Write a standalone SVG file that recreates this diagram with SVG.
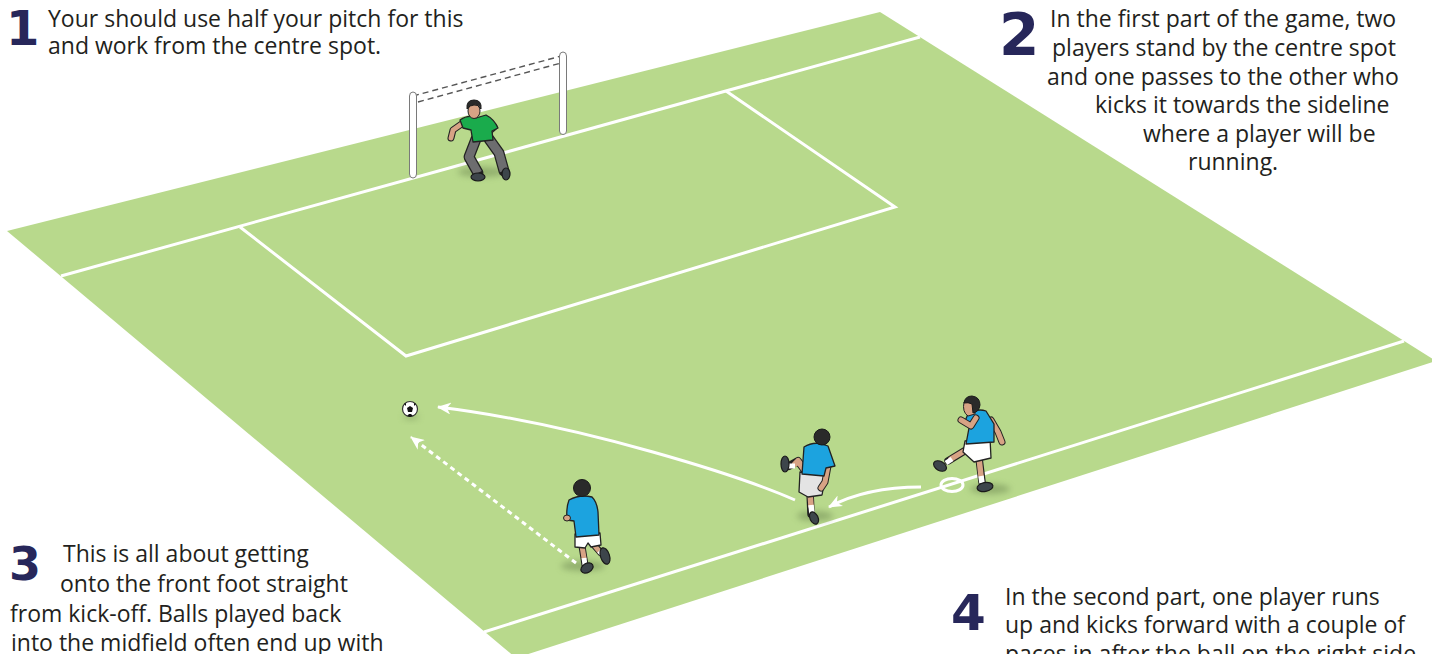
<svg xmlns="http://www.w3.org/2000/svg" width="1432" height="654" viewBox="0 0 1432 654">
  <style>
    .pitch { fill: #b8d98c; }
    .line { fill: none; stroke: #ffffff; stroke-width: 3; }
    .txt { font-family: "Open Sans", Lato, sans-serif; font-size: 23px; fill: #231f20; }
    .num { font-family: "DejaVu Sans", Lato, sans-serif; font-weight: bold; fill: #27275a; }
    .arrow { fill: none; stroke: #ffffff; stroke-width: 3; }
    .dash { stroke-dasharray: 5 4; }
    .shadow { fill: #6f8a52; opacity: 0.55; filter: url(#soft); }
    .ol { fill: none; stroke: #222222; stroke-linecap: round; stroke-linejoin: round; }
    .skin { fill: none; stroke: #d7a385; stroke-linecap: round; stroke-linejoin: round; }
    .sock { fill: none; stroke: #ffffff; stroke-linecap: butt; }
    .edge { stroke: #222222; stroke-width: 1.3; stroke-linejoin: round; }
    .hair { fill: #2a2a2a; stroke: #1a1a1a; stroke-width: 1; }
    .blue { fill: #1ca3df; }
    .boot { fill: #3d454b; stroke: #1a1a1a; stroke-width: 1.2; }
  </style>
  <defs>
    <filter id="soft" x="-50%" y="-100%" width="200%" height="300%">
      <feGaussianBlur stdDeviation="3"/>
    </filter>
    <marker id="head" viewBox="0 0 14 12" refX="13" refY="6" markerWidth="14" markerHeight="12" markerUnits="userSpaceOnUse" orient="auto">
      <path d="M14 6 L0 0 L4 6 L0 12 Z" fill="#ffffff"/>
    </marker>
  </defs>

  <!-- pitch surface and markings -->
  <g id="pitch">
    <polygon class="pitch" points="7,231 880,12 1436,361 516,658"/>
    <line class="line" x1="61" y1="276" x2="920" y2="37"/>
    <polyline class="line" points="240,227 406,356 895,207 726,91"/>
    <line class="line" x1="484" y1="632" x2="1404" y2="341"/>
    <ellipse class="line" cx="952" cy="485" rx="11" ry="6.5" stroke-width="2.5"/>
  </g>

  <!-- goal frame -->
  <g id="goal">
    <path d="M413 96 L565 55" fill="none" stroke="#555555" stroke-width="1.4" stroke-dasharray="6 4"/>
    <path d="M418 102 L561 63" fill="none" stroke="#555555" stroke-width="1.4" stroke-dasharray="6 4"/>
    <path d="M559.5 56 Q559.5 52 563 52 Q566.5 52 566.5 56 L566.5 131 Q566.5 134.5 563 134.5 Q559.5 134.5 559.5 131 Z" fill="#ffffff" stroke="#7a7a7a" stroke-width="1"/>
    <path d="M409.5 96 Q409.5 92 413 92 Q416.5 92 416.5 96 L416.5 174 Q416.5 178 413 178 Q409.5 178 409.5 174 Z" fill="#ffffff" stroke="#7a7a7a" stroke-width="1"/>
  </g>

  <!-- goalkeeper -->
  <g id="goalkeeper">
    <ellipse class="shadow" cx="482" cy="172" rx="24" ry="5"/>
    <path class="ol" d="M476 139 L469 157 L478 173" stroke-width="11"/>
    <path d="M476 139 L469 157 L478 173" fill="none" stroke="#6d6d6f" stroke-width="8.5" stroke-linejoin="round"/>
    <path class="ol" d="M489 139 L499 153 L504 171" stroke-width="11"/>
    <path d="M489 139 L499 153 L504 171" fill="none" stroke="#6d6d6f" stroke-width="8.5" stroke-linejoin="round"/>
    <ellipse class="boot" cx="478" cy="177" rx="7" ry="4" fill="#56656c"/>
    <ellipse class="boot" cx="506" cy="174" rx="4" ry="6" fill="#56656c"/>
    <path class="ol" d="M463 123 L453 130 L451 138" stroke-width="7"/>
    <path class="skin" d="M463 123 L453 130 L451 138" stroke-width="4.8"/>
    <path class="ol" d="M494 127 L487 133 L480 135" stroke-width="7"/>
    <path class="skin" d="M494 127 L487 133 L480 135" stroke-width="4.8"/>
    <path class="edge" fill="#1aab4c" d="M460 120 Q469 114 476 118 L486 115 Q494 119 498 128 L492 131 L493 140 L473 142 L471 130 L463 128 Z"/>
    <ellipse cx="474" cy="111" rx="6" ry="7.5" fill="#d7a385" stroke="#222222" stroke-width="1"/>
    <path class="hair" d="M467 109 Q466 100 474 100 Q482 100 481 109 Q478 104 474 105 Q470 105 467 109 Z"/>
  </g>

  <!-- player running back towards the ball -->
  <g id="runner">
    <ellipse class="shadow" cx="583" cy="566" rx="22" ry="5"/>
    <path class="ol" d="M594 545 L601 553" stroke-width="7"/>
    <path class="skin" d="M594 545 L599 551" stroke-width="5"/>
    <path class="sock" d="M599 551 L602 554" stroke-width="5"/>
    <ellipse class="boot" cx="605" cy="556" rx="4.5" ry="8.5" transform="rotate(-18 605 556)"/>
    <path class="ol" d="M582 546 L585 565" stroke-width="7"/>
    <path class="skin" d="M582 546 L584 558" stroke-width="5"/>
    <path class="sock" d="M584 558 L585 565" stroke-width="5"/>
    <ellipse class="boot" cx="587" cy="568" rx="6.5" ry="4.5" transform="rotate(-30 587 568)"/>
    <path class="edge" fill="#ffffff" d="M575 534 L600 533 L601 545 L591 547 L588 543 L585 548 L575 547 Z"/>
    <path class="edge blue" d="M569 500 Q580 494 592 497 Q597 502 598 512 L599 535 L576 537 L574 521 L567 520 Q566 508 569 500 Z"/>
    <ellipse cx="567" cy="518" rx="3.5" ry="3" fill="#d7a385" stroke="#222222" stroke-width="1"/>
    <circle class="hair" cx="582" cy="488" r="8.5"/>
  </g>

  <!-- player receiving the pass -->
  <g id="receiver">
    <ellipse class="shadow" cx="815" cy="516" rx="18" ry="5"/>
    <path class="ol" d="M806 472 L798 461 L789 466" stroke-width="8"/>
    <path class="skin" d="M806 472 L798 461 L795 464" stroke-width="6"/>
    <path class="sock" d="M795 466 L788 466" stroke-width="5"/>
    <ellipse class="boot" cx="785" cy="464" rx="4" ry="8"/>
    <path class="ol" d="M810 492 L811 514" stroke-width="7.5"/>
    <path class="skin" d="M810 492 L811 506" stroke-width="5.5"/>
    <path class="sock" d="M811 505 L812 514" stroke-width="5.5"/>
    <ellipse class="boot" cx="814" cy="518" rx="4" ry="6.5" transform="rotate(-25 814 518)"/>
    <path class="edge" fill="#e4e4e4" d="M800 472 L826 474 L822 495 L808 497 L799 492 Z"/>
    <path class="ol" d="M828 466 L825 482 L821 488" stroke-width="7"/>
    <path class="skin" d="M828 466 L825 482 L821 488" stroke-width="5"/>
    <path class="edge blue" d="M804 447 Q815 440 828 446 L835 466 L826 468 L824 476 L802 474 Z"/>
    <circle class="hair" cx="822" cy="437" r="8"/>
  </g>

  <!-- player taking the kick-off -->
  <g id="kicker">
    <ellipse class="shadow" cx="990" cy="489" rx="20" ry="5"/>
    <path class="ol" d="M979 458 L982 482" stroke-width="7.5"/>
    <path class="skin" d="M979 458 L981 476" stroke-width="5.5"/>
    <path class="sock" d="M981 476 L982 483" stroke-width="5.5"/>
    <ellipse class="boot" cx="985" cy="487" rx="8" ry="4.5" transform="rotate(-10 985 487)"/>
    <path class="ol" d="M966 450 L948 461" stroke-width="7.5"/>
    <path class="skin" d="M966 450 L951 459" stroke-width="5.5"/>
    <path class="sock" d="M952 459 L946 463" stroke-width="5"/>
    <ellipse class="boot" cx="940" cy="466" rx="7" ry="4.5" transform="rotate(30 940 466)"/>
    <path class="edge" fill="#ffffff" d="M965 441 L990 438 L991 458 L974 462 L963 452 Z"/>
    <path class="ol" d="M991 420 L998 432 L1002 442" stroke-width="7"/>
    <path class="skin" d="M991 420 L998 432 L1002 442" stroke-width="5"/>
    <path class="edge blue" d="M968 414 Q977 408 986 411 L994 424 L994 442 L966 444 L969 428 L965 421 Z"/>
    <path class="ol" d="M976 418 L971 426 L961 420" stroke-width="7"/>
    <path class="skin" d="M976 418 L971 426 L961 420" stroke-width="5"/>
    <path d="M964 402 Q962 412 968 416 L975 414 L974 402 Z" fill="#d7a385" stroke="#222222" stroke-width="1"/>
    <path class="hair" d="M964 403 Q965 396 972 396 Q980 397 980 405 Q979 412 973 413 L972 404 Q968 402 964 403 Z"/>
  </g>

  <!-- ball -->
  <g id="ball">
    <ellipse cx="411" cy="417" rx="8" ry="2.5" fill="#6f8a52" opacity="0.5" filter="url(#soft)"/>
    <circle cx="410" cy="409" r="7.5" fill="#ffffff" stroke="#333333" stroke-width="1.2"/>
    <polygon points="410,406 413,408 412,412 408,412 407,408" fill="#111111"/>
    <path d="M404 404 L406 403 L406 406 Z M416 404 L414 403 L414 406 Z M407 416 L410 417 L413 416 L411 414 L409 414 Z" fill="#111111"/>
  </g>

  <!-- pass and run lines -->
  <g id="connectors">
    <path class="arrow" d="M795 500 C745 478 585 425 438 407" marker-end="url(#head)"/>
    <path class="arrow" d="M921 487 Q866 487 829 507" marker-end="url(#head)"/>
    <path class="arrow dash" d="M576 563 L411 437" marker-end="url(#head)"/>
  </g>

  <!-- captions -->
  <g id="caption-1">
    <text class="num" x="6" y="45" font-size="48">1</text>
    <text class="txt" x="48" y="27">Your should use half your pitch for this</text>
    <text class="txt" x="48" y="54">and work from the centre spot.</text>
  </g>
  <g id="caption-2">
    <text class="num" x="999" y="55" font-size="58">2</text>
    <text class="txt" x="1050" y="27">In the first part of the game, two</text>
    <text class="txt" x="1052" y="56">players stand by the centre spot</text>
    <text class="txt" x="1047" y="85">and one passes to the other who</text>
    <text class="txt" x="1095" y="113">kicks it towards the sideline</text>
    <text class="txt" x="1143" y="142">where a player will be</text>
    <text class="txt" x="1188" y="170">running.</text>
  </g>
  <g id="caption-3">
    <text class="num" x="9" y="580" font-size="46">3</text>
    <text class="txt" x="63" y="562">This is all about getting</text>
    <text class="txt" x="60" y="592">onto the front foot straight</text>
    <text class="txt" x="10" y="622">from kick-off. Balls played back</text>
    <text class="txt" x="11" y="651">into the midfield often end up with</text>
  </g>
  <g id="caption-4">
    <text class="num" x="951" y="630" font-size="50">4</text>
    <text class="txt" x="1005" y="605">In the second part, one player runs</text>
    <text class="txt" x="1005" y="633">up and kicks forward with a couple of</text>
    <text class="txt" x="1005" y="662">paces in after the ball on the right side</text>
  </g>
</svg>
